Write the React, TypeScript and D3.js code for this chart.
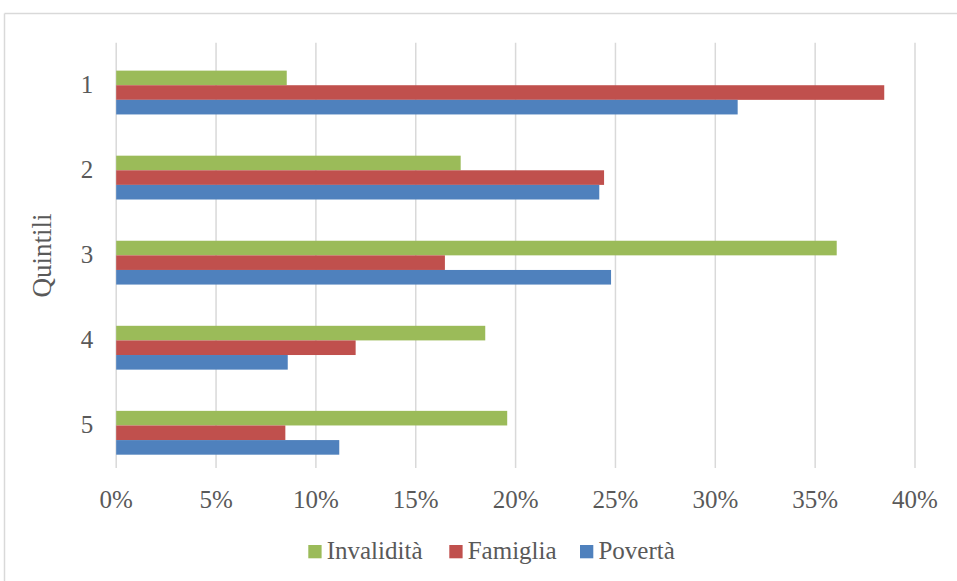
import React from "react";
import * as d3 from "d3";

const categories = ["1", "2", "3", "4", "5"];
const seriesNames = ["Invalidità", "Famiglia", "Povertà"];
const invalidita = [8.54, 17.25, 36.08, 18.48, 19.58];
const famiglia = [38.46, 24.43, 16.46, 11.99, 8.47];
const poverta = [31.12, 24.19, 24.78, 8.59, 11.17];
const xTicks = [0, 5, 10, 15, 20, 25, 30, 35, 40];
const seriesColors = ["#9BBB59", "#C0504D", "#4F81BD"];
const seriesValues = [invalidita, famiglia, poverta];

const W = 957;
const H = 581;
const FONT = "'Liberation Serif', 'DejaVu Serif', serif";
const TEXT = "#595959";

export default function App() {
  const x = d3.scaleLinear().domain([0, 40]).range([116.2, 915]);
  const y = d3
    .scaleBand<string>()
    .domain(categories)
    .range([42.7, 468])
    .paddingInner(0.313)
    .paddingOuter(0.1565);
  // four slots per group; the top slot is empty in the original chart
  const sub = d3
    .scaleBand<string>()
    .domain(["_", ...seriesNames])
    .range([0, y.bandwidth()]);

  const legendX = [308.3, 449.3, 580];

  return (
    <svg
      width={W}
      height={H}
      style={{ position: "absolute", left: 0, top: 0, display: "block", background: "#fff" }}
    >
      <line x1={4.5} x2={W} y1={13.5} y2={13.5} stroke="#D9D9D9" strokeWidth={1.5} />
      <line x1={4.5} x2={4.5} y1={13.5} y2={H} stroke="#D9D9D9" strokeWidth={1.5} />
      {xTicks.map((t) => (
        <line key={t} x1={x(t)} x2={x(t)} y1={42.7} y2={468} stroke="#D9D9D9" strokeWidth={1.5} />
      ))}
      {categories.map((c, i) =>
        seriesNames.map((s, j) => (
          <rect
            key={c + s}
            x={x(0)}
            y={(y(c) as number) + (sub(s) as number)}
            width={x(seriesValues[j][i]) - x(0)}
            height={sub.bandwidth()}
            fill={seriesColors[j]}
          />
        ))
      )}
      {xTicks.map((t) => (
        <text key={t} x={x(t)} y={508} textAnchor="middle" fontFamily={FONT} fontSize={25} fill={TEXT}>
          {t + "%"}
        </text>
      ))}
      {categories.map((c) => (
        <text
          key={c}
          x={87}
          y={(y(c) as number) + y.bandwidth() / 2 + 8}
          textAnchor="middle"
          fontFamily={FONT}
          fontSize={25}
          fill={TEXT}
        >
          {c}
        </text>
      ))}
      <text
        transform={`translate(51, 255.5) rotate(-90)`}
        textAnchor="middle"
        fontFamily={FONT}
        fontSize={27}
        fill={TEXT}
      >
        Quintili
      </text>
      {seriesNames.map((s, j) => (
        <g key={s} transform={`translate(${legendX[j]}, 545)`}>
          <rect x={0} y={0} width={13.3} height={13.3} fill={seriesColors[j]} />
          <text x={18.4} y={14.3} fontFamily={FONT} fontSize={25} fill={TEXT}>
            {s}
          </text>
        </g>
      ))}
    </svg>
  );
}
